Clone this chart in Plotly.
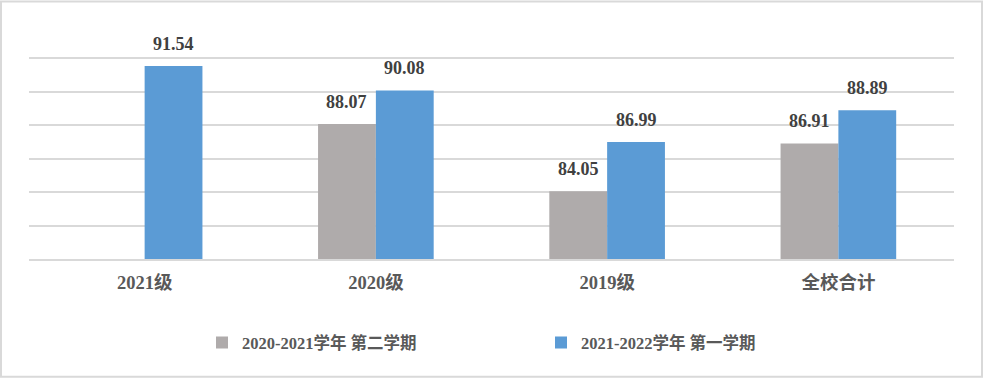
import plotly.graph_objects as go

categories = ["2021级", "2020级", "2019级", "全校合计"]
series_names = ["2020-2021学年 第二学期", "2021-2022学年 第一学期"]
values_prev = [None, 88.07, 84.05, 86.91]
values_curr = [91.54, 90.08, 86.99, 88.89]
colors = ["#AFABAB", "#5B9BD5"]

FONT = "Liberation Serif, Noto Sans CJK SC, serif"

fig = go.Figure()
for name, vals, col in zip(series_names, [values_prev, values_curr], colors):
    fig.add_trace(go.Bar(x=categories, y=vals, name=name, marker_color=col,
                         marker_line_width=0))

annotations = []
for vals, shift in [(values_prev, -29), (values_curr, 29)]:
    for c, v in zip(categories, vals):
        if v is None:
            continue
        annotations.append(dict(x=c, y=v, text=f"{v:.2f}", showarrow=False,
                                xref="x", yref="y", xshift=shift, yshift=22,
                                yanchor="middle",
                                font=dict(family=FONT, size=18, color="#404040", weight="bold")))

W, H = 983, 378
ppu = 16.75
y_lo, y_hi = 80, 92.2
l, r = 29, 29
t = 58 - 0.2 * ppu
b = 119
pw, ph = W - l - r, H - t - b

fig.update_layout(
    width=W, height=H,
    margin=dict(l=l, r=r, t=t, b=b),
    paper_bgcolor="white", plot_bgcolor="white",
    barmode="group", bargap=0.5, bargroupgap=0,
    showlegend=True,
    legend=dict(orientation="h", x=(202 - l) / pw, xanchor="left",
                y=-(343 - (H - b)) / ph, yanchor="middle",
                font=dict(family=FONT, size=16.5, color="#595959", weight="bold"),
                entrywidth=294, entrywidthmode="pixels", itemwidth=30,
                bgcolor="rgba(0,0,0,0)"),
    xaxis=dict(showgrid=False, showline=True, linecolor="#D9D9D9", linewidth=1.5,
               ticks="", ticklabelstandoff=6,
               tickfont=dict(family=FONT, size=18.5, color="#595959", weight="bold")),
    yaxis=dict(range=[y_lo, y_hi], tick0=80, dtick=2, showticklabels=False, showgrid=True,
               gridcolor="#D9D9D9", gridwidth=1.5, zeroline=False, showline=False),
    annotations=annotations,
    shapes=[dict(type="rect", xref="paper", yref="paper",
                 x0=-(l - 1) / pw, x1=1 + (r - 1) / pw,
                 y0=-(b - 1) / ph, y1=1 + (t - 1) / ph,
                 line=dict(color="#D9D9D9", width=2), fillcolor="rgba(0,0,0,0)", layer="below")],
)

fig.write_html("out.html", config={"displayModeBar": False},
               post_script="document.body.style.margin='0';document.body.style.padding='0';")
